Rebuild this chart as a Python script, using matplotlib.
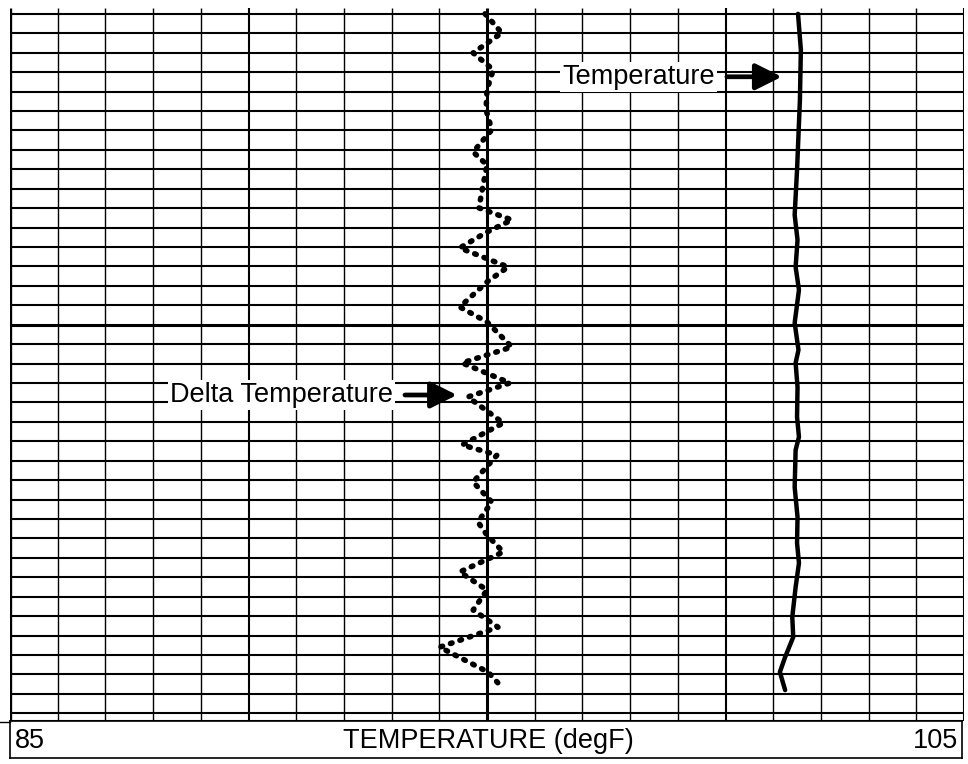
import matplotlib
matplotlib.use("Agg")
import matplotlib.pyplot as plt
import numpy as np

plt.rcParams['font.family'] = ['Liberation Sans', 'DejaVu Sans']

scale_min, scale_max = 85, 105
axis_label = "TEMPERATURE (degF)"
baseline_delta = 95.0  # delta-temperature track centre

delta_depth = [0.0, 0.98, 2.01, 2.88, 3.91, 4.94, 5.97, 7.11, 7.78, 9.06, 9.99, 10.61,
               11.23, 12.05, 13.03, 13.80, 15.09, 15.86, 17.15, 17.97, 19.00, 19.72,
               21.06, 22.19, 22.71, 24.10, 25.13, 26.16, 26.83, 27.70, 28.73, 29.66,
               30.69, 31.57, 32.60, 33.88, 34.55]
delta_values = [-0.04, 0.31, -0.29, 0.13, 0.0, -0.02, 0.10, -0.29, 0.0, -0.10, -0.17, 0.52,
                0.0, -0.57, 0.44, 0.0, -0.57, 0.0, 0.52, -0.52, 0.48, -0.40,
                0.34, -0.52, 0.21, -0.29, 0.10, -0.19, 0.0, 0.34, -0.57, 0.0,
                -0.29, 0.23, -0.99, 0.02, 0.27]

temp_depth = [0.0, 1.85, 4.43, 8.03, 10.35, 11.64, 13.03, 14.21, 15.91, 17.30, 17.97,
              19.21, 20.75, 21.78, 22.45, 24.36, 25.90, 27.24, 28.27, 29.51, 31.05,
              32.08, 33.11, 33.88, 34.81]
temp_values = [101.52, 101.58, 101.56, 101.50, 101.45, 101.51, 101.47, 101.54, 101.45,
               101.53, 101.47, 101.51, 101.50, 101.54, 101.47, 101.45, 101.51, 101.50,
               101.54, 101.47, 101.40, 101.42, 101.25, 101.14, 101.25]

n_hlines = 36
depth_bottom = 36.4
thick_hline = 16

W, H = 968, 764
fig = plt.figure(figsize=(W / 100, H / 100), dpi=100)
fig.patch.set_facecolor('white')

ax = fig.add_axes([10 / W, 1 - 721 / H, 954 / W, (721 - 8) / H])
ax.set_xlim(scale_min, scale_max)
ax.set_ylim(depth_bottom, -0.3)
for s in ax.spines.values():
    s.set_visible(False)
ax.set_xticks([])
ax.set_yticks([])

# vertical grid
for v in range(scale_min, scale_max + 1):
    if v == scale_min:
        lw = 2.4
    elif v == 95:
        lw = 2.2
    elif v in (90, 100, scale_max):
        lw = 1.5
    else:
        lw = 1.0
    ax.plot([v, v], [-0.3, depth_bottom], color='black', lw=lw, zorder=1,
            solid_capstyle='butt')

# horizontal grid
for j in range(n_hlines + 1):
    lw = 2.2 if j == thick_hline else 1.5
    ax.axhline(j, color='black', lw=lw, zorder=1)
ax.axhline(depth_bottom - 0.02, color='black', lw=1.5, zorder=1)

# curves
delta_x = np.array(delta_values) + baseline_delta
ax.plot(delta_x, delta_depth, color='black', lw=4.0, linestyle=(0, (0.3, 1.5)),
        dash_capstyle='round', solid_joinstyle='round', zorder=3)
ax.plot(temp_values, temp_depth, color='black', lw=3.2, solid_capstyle='round',
        solid_joinstyle='round', zorder=3)

# annotations
arrow_props = dict(arrowstyle='-|>,head_length=0.8,head_width=0.4',
                   lw=3.4, color='black', shrinkA=0, shrinkB=0,
                   mutation_scale=20)
ax.text(99.78, 3.24, "Temperature", ha='right', va='center', fontsize=19.5,
        zorder=4, bbox=dict(facecolor='white', edgecolor='none', pad=1.5))
ax.annotate("", xy=(101.18, 3.24), xytext=(100.03, 3.24),
            arrowprops=arrow_props, zorder=4)
ax.text(93.03, 19.62, "Delta Temperature", ha='right', va='center', fontsize=19.5,
        zorder=4, bbox=dict(facecolor='white', edgecolor='none', pad=1.5))
ax.annotate("", xy=(94.37, 19.62), xytext=(93.28, 19.62),
            arrowprops=arrow_props, zorder=4)

# scale box below
ax2 = fig.add_axes([10 / W, 1 - 758 / H, 952 / W, 37 / H])
ax2.set_xlim(scale_min, scale_max)
ax2.set_ylim(0, 1)
ax2.set_xticks([])
ax2.set_yticks([])
for s in ax2.spines.values():
    s.set_linewidth(1.2)
ax2.text(0.005, 0.45, str(scale_min), transform=ax2.transAxes, ha='left',
         va='center', fontsize=19.5)
ax2.text(0.996, 0.45, str(scale_max), transform=ax2.transAxes, ha='right',
         va='center', fontsize=19.5)
ax2.text(0.502, 0.45, axis_label, transform=ax2.transAxes, ha='center',
         va='center', fontsize=19.5)

# small outside tick at left of the box
fig.add_artist(plt.Line2D([0, 10 / W], [1 - 722 / H, 1 - 722 / H],
                          color='black', lw=1.0))

fig.savefig("out.png", dpi=100, facecolor='white')
